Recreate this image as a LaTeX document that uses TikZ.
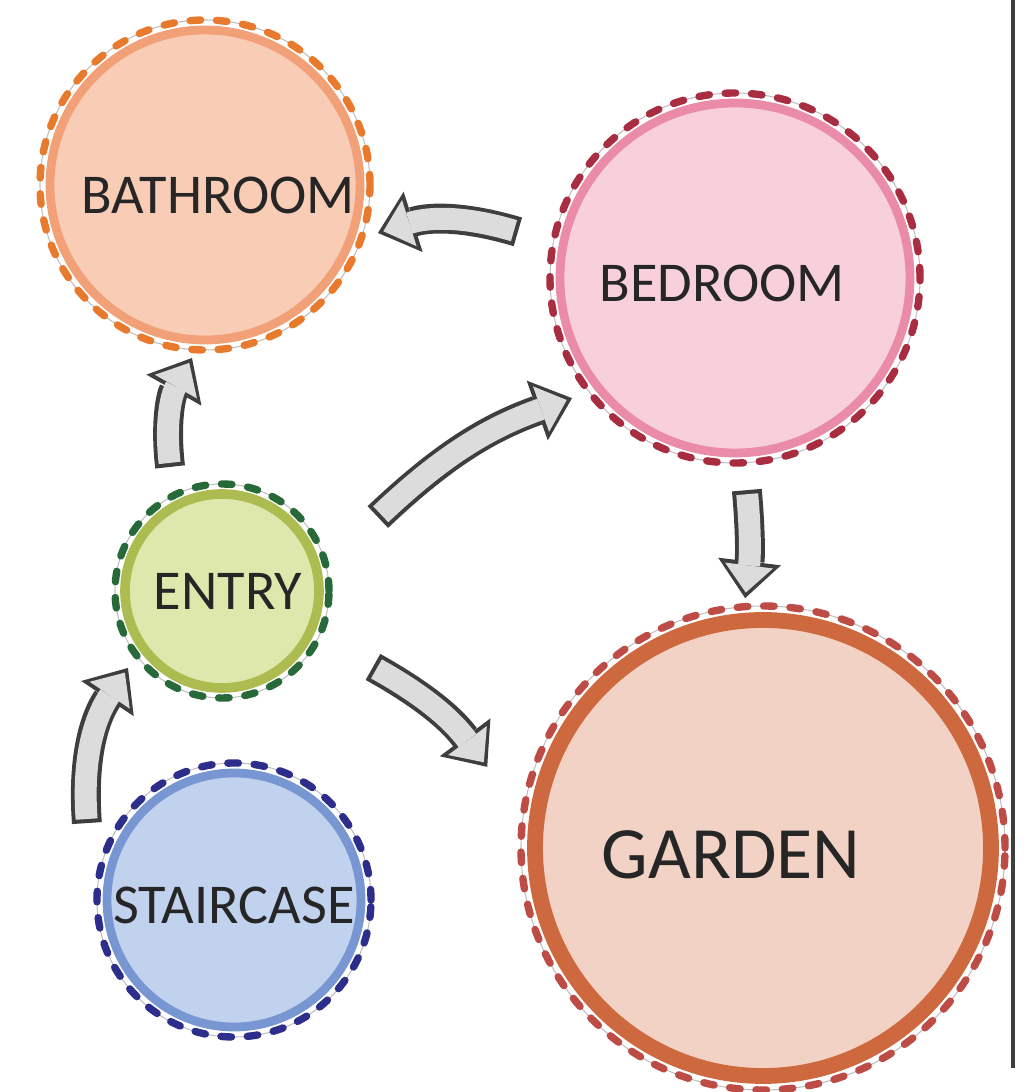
\documentclass[tikz,border=0pt]{standalone}
\usepackage{fontspec}
\setmainfont{Carlito}
\usetikzlibrary{arrows.meta,calc}
\definecolor{bathfill}{RGB}{249,204,182}
\definecolor{bathring}{RGB}{242,160,120}
\definecolor{bathdash}{RGB}{232,122,45}
\definecolor{bedfill}{RGB}{248,208,220}
\definecolor{bedring}{RGB}{234,140,168}
\definecolor{beddash}{RGB}{168,45,65}
\definecolor{entryfill}{RGB}{222,232,172}
\definecolor{entryring}{RGB}{172,188,80}
\definecolor{entrydash}{RGB}{40,105,58}
\definecolor{stairfill}{RGB}{192,210,238}
\definecolor{stairring}{RGB}{120,150,210}
\definecolor{stairdash}{RGB}{45,45,140}
\definecolor{gardenfill}{RGB}{242,210,196}
\definecolor{gardenring}{RGB}{206,104,62}
\definecolor{gardendash}{RGB}{190,76,70}
\definecolor{arrowfill}{RGB}{220,220,220}
\definecolor{arrowline}{RGB}{62,62,62}

\begin{document}
\begin{tikzpicture}[
    room/.style={circle, inner sep=0pt, line width=5pt},
    roomlbl/.style={font=\fontsize{32}{36}\selectfont, text=black!85, inner sep=0pt},
    pencil/.style={draw=black!25, line width=0.6pt},
    dashring/.style={line width=4.2pt, line cap=round, dash pattern=on 6pt off 9pt},
    flowout/.style={draw=arrowline, line width=17pt,
        -{Triangle[length=21pt, width=36pt, line width=0pt]}},
    flowin/.style={draw=arrowfill, line width=12.5pt, shorten >=3.2pt, shorten <=2.3pt,
        -{Triangle[length=15.5pt, width=27.5pt, line width=0pt]}}
]
    \useasboundingbox (0,0) rectangle (20.56,21.84);

    % rooms
    \node[room, fill=bathfill, draw=bathring, minimum size=6.2cm,
        label={[roomlbl, xshift=2.6mm, yshift=-2mm]center:BATHROOM}] (bath) at (4.10,18.14) {};
    \node[room, fill=bedfill, draw=bedring, minimum size=7.0cm,
        label={[roomlbl, xshift=-2.6mm, yshift=-1mm]center:BEDROOM}] (bed) at (14.70,16.28) {};
    \node[room, fill=entryfill, draw=entryring, line width=5.5pt, minimum size=3.88cm,
        label={[roomlbl, xshift=1.2mm]center:ENTRY}] (entry) at (4.44,10.02) {};
    \node[room, fill=stairfill, draw=stairring, minimum size=5.08cm,
        label={[roomlbl, yshift=-1mm]center:STAIRCASE}] (stair) at (4.68,3.84) {};
    \node[room, fill=gardenfill, draw=gardenring, line width=9pt, minimum size=9.12cm,
        label={[roomlbl, font=\fontsize{42}{46}\selectfont, xshift=-6.4mm, yshift=-1.4mm]center:GARDEN}] (garden) at (15.26,4.88) {};

    % dashed outlines
    \draw[pencil] (bath) circle (3.30);
    \draw[pencil] (bed) circle (3.70);
    \draw[pencil] (entry) circle (2.14);
    \draw[pencil] (stair) circle (2.74);
    \draw[pencil] (garden) circle (4.84);
    \draw[dashring, bathdash] (bath) circle (3.30);
    \draw[dashring, beddash] (bed) circle (3.70);
    \draw[dashring, entrydash] (entry) circle (2.14);
    \draw[dashring, stairdash] (stair) circle (2.74);
    \draw[dashring, gardendash] (garden) circle (4.84);

    % block arrows
    \foreach \a/\ra/\da/\b/\rb/\db/\bnd in {
        bed/168/4.44/bath/344.5/3.59/-17,
        entry/112.7/2.69/bath/265.7/3.47/18,
        entry/25.4/3.45/bed/216.4/4.05/12,
        bed/273.2/4.25/garden/94.1/5.01/6,
        entry/333.3/3.38/garden/163.6/5.75/12,
        stair/152.4/3.32/entry/219.3/2.43/19}
    {
        \foreach \sty in {flowout,flowin}
            \draw[\sty] ($(\a)+(\ra:\da)$) to[bend left=\bnd] ($(\b)+(\rb:\db)$);
    }

    % page edge
    \draw[arrowline, line width=2.2pt] (20.26,21.84) -- (20.26,0.48);
\end{tikzpicture}
\end{document}
